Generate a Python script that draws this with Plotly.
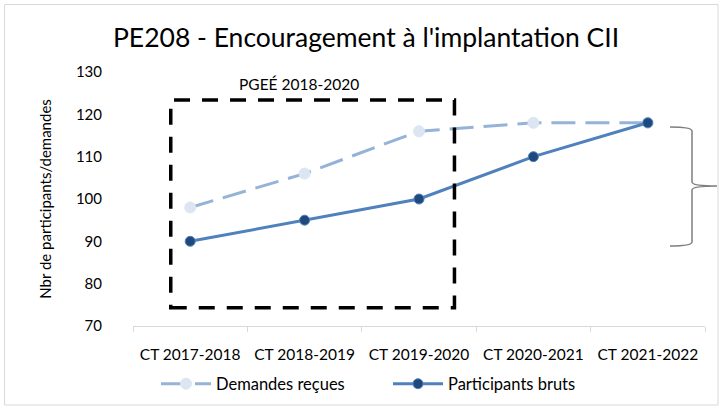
import plotly.graph_objects as go

categories = ["CT 2017-2018", "CT 2018-2019", "CT 2019-2020", "CT 2020-2021", "CT 2021-2022"]
demandes = [98, 106, 116, 118, 118]
participants = [90, 95, 100, 110, 118]
y_ticks = [70, 80, 90, 100, 110, 120, 130]

FONT = "Lato"
L, R, T, B = 133, 14, 72, 81
W, H = 719, 407
pw, ph = W - L - R, H - T - B

def px(x):
    return (x - L) / pw

def py(y):
    return (H - B - y) / ph

fig = go.Figure()
fig.add_trace(go.Scatter(
    x=categories, y=demandes, name="Demandes reçues", mode="lines+markers",
    line=dict(color="#95B3D7", width=3, dash="24px,10px"),
    marker=dict(size=11, color="#DCE6F2", line=dict(color="#DCE6F2", width=1)),
))
fig.add_trace(go.Scatter(
    x=categories, y=participants, name="Participants bruts", mode="lines+markers",
    line=dict(color="#4F81BD", width=3),
    marker=dict(size=10, color="#1F497D", line=dict(color="#4F81BD", width=1)),
))

# dashed box PGEÉ
fig.add_shape(type="rect", xref="x", yref="y", x0=-0.17, x1=2.31, y0=74.3, y1=123.4,
              line=dict(color="black", width=3.5, dash="16px,12px"), fillcolor="rgba(0,0,0,0)")
fig.add_annotation(x=0.95, y=127.2, xref="x", yref="y", text="PGEÉ 2018-2020", showarrow=False,
                   font=dict(family=FONT, size=15.5, color="black"))

# brace
bx0, bx1, bx2 = px(670), px(692), px(717)
pts = dict(t=py(127), tm=py(131), mu=py(182), m=py(186), ml=py(190), bm=py(242), b=py(246))
path = (f"M {bx0},{pts['t']} Q {bx1},{pts['t']} {bx1},{pts['tm']} L {bx1},{pts['mu']} "
        f"Q {bx1},{pts['m']} {bx2},{pts['m']} Q {bx1},{pts['m']} {bx1},{pts['ml']} "
        f"L {bx1},{pts['bm']} Q {bx1},{pts['b']} {bx0},{pts['b']}")
fig.add_shape(type="path", xref="paper", yref="paper", path=path,
              line=dict(color="#7F7F7F", width=1.5))

# outer border
fig.add_shape(type="rect", xref="paper", yref="paper", x0=px(4.5), x1=px(718), y0=py(405), y1=py(4.5),
              line=dict(color="#D9D9D9", width=1))

fig.update_layout(
    width=W, height=H, margin=dict(l=L, r=R, t=T, b=B, autoexpand=False),
    paper_bgcolor="white", plot_bgcolor="white",
    font=dict(family=FONT, color="black"),
    title=dict(text="PE208 - Encouragement à l'implantation CII", x=366 / W, xanchor="center",
               y=1 - 38 / H, yanchor="middle", font=dict(family=FONT, size=26.5, color="black")),
    showlegend=True,
    legend=dict(orientation="h", x=(388 - L) / pw, xanchor="center",
                yref="container", y=1 - 384 / H, yanchor="middle",
                font=dict(family=FONT, size=16.5), itemwidth=50, traceorder="normal",
                entrywidth=167, entrywidthmode="pixels"),
)
fig.update_xaxes(type="category", tickson="boundaries", ticks="outside", ticklen=5,
                 tickcolor="#D9D9D9", showline=True, linecolor="#D9D9D9", linewidth=1,
                 showgrid=False, tickfont=dict(family=FONT, size=15.5), range=[-0.5, 4.5],
                 ticklabelstandoff=14, automargin=False)
fig.update_yaxes(range=[70, 130], tickvals=y_ticks, showgrid=False, showline=False, zeroline=False,
                 tickfont=dict(family=FONT, size=15), ticklabelstandoff=30, automargin=False,
                 title=dict(text="Nbr de participants/demandes", font=dict(family=FONT, size=15),
                            standoff=20))

fig.write_html("out.html", post_script="document.body.style.margin='0';",
               config={"displayModeBar": False})
